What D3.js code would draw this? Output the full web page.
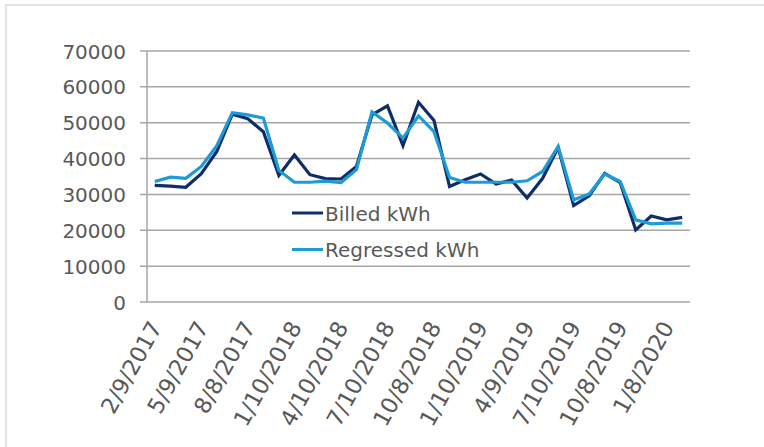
<!DOCTYPE html>
<html>
<head>
<meta charset="utf-8">
<script src="https://cdn.jsdelivr.net/npm/d3@7"></script>
<style>
  html, body { margin: 0; padding: 0; background: #fff; }
  svg { display: block; }
</style>
</head>
<body>
<div id="chart"></div>
<script>
// x categories: one label every third billing period
const dates = [
  "2/9/2017", "", "", "5/9/2017", "", "", "8/8/2017", "", "", "1/10/2018", "", "",
  "4/10/2018", "", "", "7/10/2018", "", "", "10/8/2018", "", "", "1/10/2019", "", "",
  "4/9/2019", "", "", "7/10/2019", "", "", "10/8/2019", "", "", "1/8/2020", ""
];
const billed = [
  32500, 32300, 32000, 35800, 42000, 52400, 51100, 47500, 35300, 41000, 35500, 34400,
  34300, 37800, 52200, 54700, 43600, 55700, 50600, 32200, 34100, 35700, 32900, 34000,
  29000, 34500, 43100, 26900, 29600, 35900, 33300, 20100, 24000, 22900, 23600
];
const regressed = [
  33600, 34800, 34500, 37800, 43600, 52800, 52200, 51300, 36700, 33400, 33400, 33700,
  33300, 36900, 53000, 49900, 45700, 51900, 47500, 34700, 33400, 33400, 33400, 33400,
  33800, 36400, 43400, 28500, 30100, 35700, 33600, 22900, 21800, 22000, 22000
];
const seriesNames = ["Billed kWh", "Regressed kWh"];
const yTicks = [0, 10000, 20000, 30000, 40000, 50000, 60000, 70000];

const width = 764, height = 447;
const margin = {top: 51, right: 74, bottom: 145, left: 147};
const navy = "#0f2d68", sky = "#1c9bd7", grid = "#a6a6a6", txt = "#595959";
const font = "'DejaVu Sans', Verdana, sans-serif";

const svg = d3.select("#chart").append("svg")
  .attr("width", width)
  .attr("height", height)
  .style("font-family", font);

// light frame around the picture
svg.append("rect")
  .attr("x", 6).attr("y", 5)
  .attr("width", width + 10).attr("height", height + 10)
  .attr("fill", "none")
  .attr("stroke", "#e4e4e4")
  .attr("stroke-width", 2);

const idx = d3.range(billed.length);
const x = d3.scaleBand(idx, [margin.left, width - margin.right]);
const y = d3.scaleLinear([0, 70000], [height - margin.bottom, margin.top]);
const cx = i => x(i) + x.bandwidth() / 2;

// gridlines + left ticks
svg.append("g")
  .selectAll("line")
  .data(yTicks)
  .join("line")
  .attr("x1", margin.left - 7)
  .attr("x2", width - margin.right)
  .attr("y1", d => y(d))
  .attr("y2", d => y(d))
  .attr("stroke", grid)
  .attr("stroke-width", 1.5);

// y axis line
svg.append("line")
  .attr("x1", margin.left).attr("x2", margin.left)
  .attr("y1", y(70000)).attr("y2", y(0))
  .attr("stroke", grid)
  .attr("stroke-width", 1.5);

// y labels
svg.append("g")
  .attr("font-size", 20)
  .attr("fill", txt)
  .selectAll("text")
  .data(yTicks)
  .join("text")
  .attr("x", 126)
  .attr("y", d => y(d) + 7.5)
  .attr("text-anchor", "end")
  .text(d => d);

// x labels, rotated
svg.append("g")
  .attr("font-size", 22.5)
  .attr("fill", txt)
  .selectAll("text")
  .data(idx.filter(i => dates[i]))
  .join("text")
  .attr("text-anchor", "end")
  .attr("transform", i => `translate(${cx(i) + 8},${y(0) + 25}) rotate(-61)`)
  .text(i => dates[i]);

// series
const line = d3.line().x((d, i) => cx(i)).y(d => y(d));

svg.append("path")
  .datum(billed)
  .attr("d", line)
  .attr("fill", "none")
  .attr("stroke", navy)
  .attr("stroke-width", 3.2);

svg.append("path")
  .datum(regressed)
  .attr("d", line)
  .attr("fill", "none")
  .attr("stroke", sky)
  .attr("stroke-width", 3.2);

// legend
const legend = svg.append("g")
  .selectAll("g")
  .data(seriesNames)
  .join("g")
  .attr("transform", (d, i) => `translate(292,${213 + i * 36.5})`);

legend.append("line")
  .attr("x1", 0).attr("x2", 31)
  .attr("stroke", (d, i) => i ? sky : navy)
  .attr("stroke-width", 3);

legend.append("text")
  .attr("x", 33)
  .attr("y", 7.5)
  .attr("font-size", 20)
  .attr("fill", txt)
  .text(d => d);
</script>
</body>
</html>
